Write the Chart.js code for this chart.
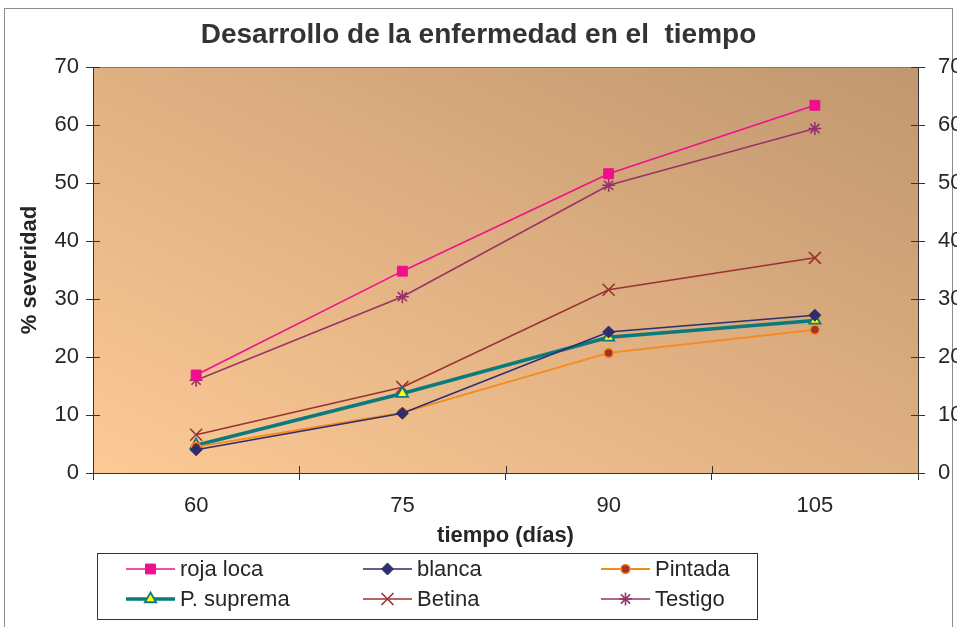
<!DOCTYPE html>
<html>
<head>
<meta charset="utf-8">
<script src="https://cdn.jsdelivr.net/npm/chart.js@4/dist/chart.umd.min.js"></script>
<style>
  html, body { margin: 0; padding: 0; background: #ffffff; }
  #wrap { width: 957px; height: 627px; }
  canvas { display: block; }
</style>
</head>
<body>
<div id="wrap"><canvas id="c" width="957" height="627"></canvas></div>
<script>
// Días después de la siembra
const categories = ['60', '75', '90', '105'];

// % de severidad por variedad
const rojaLoca = [16.9, 34.8, 51.6, 63.4];
const blanca   = [4.0, 10.3, 24.3, 27.2];
const pintada  = [4.5, 10.4, 20.7, 24.7];
const pSuprema = [4.8, 13.7, 23.4, 26.3];
const betina   = [6.6, 14.8, 31.6, 37.1];
const testigo  = [16.0, 30.4, 49.6, 59.4];

const seriesNames = ['roja loca', 'blanca', 'Pintada', 'P. suprema', 'Betina', 'Testigo'];
const yTicks = [0, 10, 20, 30, 40, 50, 60, 70];

const FONT = "'Liberation Sans', Arial, sans-serif";
const TEXT = '#262626';

// Fondo degradado diagonal del área de trazado y marco exterior
const backdrop = {
  id: 'backdrop',
  beforeDraw(chart) {
    const { ctx, chartArea: a } = chart;
    ctx.save();
    ctx.strokeStyle = '#8c8c8c';
    ctx.lineWidth = 1;
    ctx.strokeRect(4.5, 8.5, 948, 650);
    const w = a.right - a.left, h = a.bottom - a.top;
    const cx = (a.left + a.right) / 2, cy = (a.top + a.bottom) / 2;
    const L = Math.hypot(w, h);
    const ux = h / L, uy = -w / L;      // perpendicular a la diagonal sup-izq / inf-der
    const d = w * h / L;
    const g = ctx.createLinearGradient(cx - ux * d, cy - uy * d, cx + ux * d, cy + uy * d);
    g.addColorStop(0, '#fdca96');
    g.addColorStop(0.5, '#dfb082');
    g.addColorStop(1, '#c0976f');
    ctx.fillStyle = g;
    ctx.fillRect(a.left, a.top, w, h);
    ctx.strokeStyle = '#7a7a7a';
    ctx.beginPath();
    ctx.moveTo(a.left, a.top + 0.5);
    ctx.lineTo(a.right, a.top + 0.5);
    ctx.stroke();
    ctx.restore();
  }
};

// Marcas de graduación que cruzan los ejes hacia dentro
const innerTicks = {
  id: 'innerTicks',
  afterDatasetsDraw(chart) {
    const { ctx, chartArea: a, scales } = chart;
    ctx.save();
    ctx.strokeStyle = '#333333';
    ctx.lineWidth = 1;
    ctx.beginPath();
    scales.y.ticks.forEach((t, i) => {
      const py = Math.round(scales.y.getPixelForTick(i)) + 0.5;
      ctx.moveTo(a.left, py); ctx.lineTo(a.left + 7, py);
      ctx.moveTo(a.right, py); ctx.lineTo(a.right - 7, py);
    });
    const n = categories.length;
    for (let i = 0; i <= n; i++) {
      const px = Math.round(a.left + (a.right - a.left) * i / n) + 0.5;
      ctx.moveTo(px, a.bottom); ctx.lineTo(px, a.bottom - 7);
    }
    ctx.stroke();
    ctx.restore();
  }
};

// Leyenda en tres columnas dentro de un recuadro
const boxLegend = {
  id: 'boxLegend',
  afterDraw(chart) {
    const { ctx } = chart;
    ctx.save();
    ctx.strokeStyle = '#333333';
    ctx.lineWidth = 1;
    ctx.strokeRect(97.5, 553.5, 660, 66);
    const colX = [126, 363, 601];
    const rowY = [569, 599];
    ctx.font = '22px ' + FONT;
    ctx.textBaseline = 'middle';
    chart.data.datasets.forEach((ds, i) => {
      const x = colX[i % 3], y = rowY[Math.floor(i / 3)];
      ctx.strokeStyle = ds.borderColor;
      ctx.lineWidth = ds.borderWidth;
      ctx.beginPath();
      ctx.moveTo(x, y); ctx.lineTo(x + 49, y);
      ctx.stroke();
      ctx.fillStyle = ds.pointBackgroundColor;
      ctx.strokeStyle = ds.pointBorderColor;
      ctx.lineWidth = ds.pointBorderWidth;
      Chart.helpers.drawPoint(ctx, {
        pointStyle: ds.pointStyle, radius: ds.pointRadius, borderWidth: ds.pointBorderWidth
      }, x + 24.5, y);
      ctx.fillStyle = TEXT;
      ctx.fillText(ds.label, x + 54, y + 1);
    });
    ctx.restore();
  }
};

function line(label, data, color, style, radius, fill, border, width, pbw) {
  return {
    label, data,
    borderColor: color,
    borderWidth: width,
    pointStyle: style,
    pointRadius: radius,
    pointHoverRadius: radius,
    pointBackgroundColor: fill,
    pointBorderColor: border,
    pointBorderWidth: pbw,
    tension: 0,
    fill: false
  };
}

const datasets = [
  line(seriesNames[0], rojaLoca, '#f0108c', 'rect', 7, '#f0108c', '#f0108c', 1.6, 1),
  line(seriesNames[1], blanca, '#2e2e6e', 'rectRot', 6, '#2e2e6e', '#2e2e6e', 1.6, 1),
  line(seriesNames[2], pintada, '#f58a1f', 'circle', 4.5, '#a3322c', '#f58a1f', 1.8, 1.5),
  line(seriesNames[3], pSuprema, '#0a7a7e', 'triangle', 6.5, '#ffff00', '#0a7a7e', 3.6, 1.8),
  line(seriesNames[4], betina, '#993333', 'crossRot', 8.5, '#993333', '#993333', 1.6, 1.6),
  line(seriesNames[5], testigo, '#993366', 'star', 6.5, '#993366', '#993366', 1.6, 1.6)
];

const yScale = (position) => ({
  type: 'linear',
  position,
  min: 0, max: 70,
  afterBuildTicks(s) { s.ticks = yTicks.map(v => ({ value: v })); },
  afterFit(s) { s.width = position === 'left' ? 93 : 39; },
  grid: { display: true, drawOnChartArea: false, drawTicks: true, tickLength: 7, color: '#333333' },
  border: { display: true, color: '#333333', width: 1 },
  ticks: { font: { size: 22, family: FONT }, color: TEXT, padding: position === 'left' ? 7 : 13 },
  title: position === 'left'
    ? { display: true, text: '% severidad', font: { size: 22, weight: 'bold', family: FONT }, color: TEXT, padding: { top: 17, bottom: 0 } }
    : { display: false }
});

new Chart(document.getElementById('c'), {
  type: 'line',
  data: { labels: categories, datasets },
  plugins: [backdrop, innerTicks, boxLegend],
  options: {
    responsive: false,
    animation: false,
    events: [],
    layout: { padding: { left: 0, right: 0, top: 0, bottom: 77 } },
    plugins: {
      legend: { display: false },
      tooltip: { enabled: false },
      title: {
        display: true,
        text: 'Desarrollo de la enfermedad en el  tiempo',
        font: { size: 28, weight: 'bold', family: FONT },
        color: '#333333',
        padding: { top: 18, bottom: 15.4 }
      }
    },
    scales: {
      x: {
        type: 'category',
        offset: true,
        afterFit(s) { s.height = 77; },
        grid: { display: true, offset: true, drawOnChartArea: false, drawTicks: true, tickLength: 7, color: '#333333' },
        border: { display: true, color: '#333333', width: 1 },
        ticks: { font: { size: 22, family: FONT }, color: TEXT, padding: 13 },
        title: { display: true, text: 'tiempo (días)', font: { size: 22, weight: 'bold', family: FONT }, color: TEXT, padding: { top: 0, bottom: 1 } }
      },
      y: yScale('left'),
      y2: yScale('right')
    }
  }
});
</script>
</body>
</html>
